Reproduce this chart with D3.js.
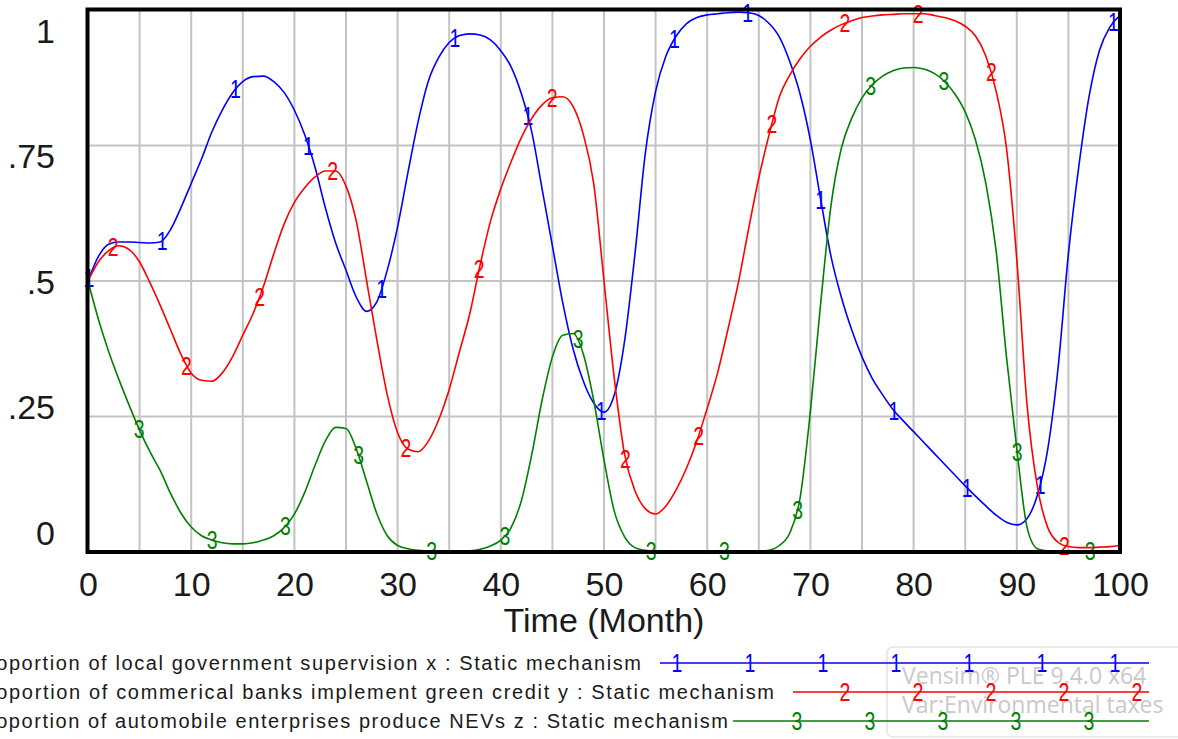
<!DOCTYPE html>
<html>
<head>
<meta charset="utf-8">
<script src="https://cdn.jsdelivr.net/npm/d3@7/dist/d3.min.js"></script>
<style>
  html, body { margin: 0; padding: 0; background: #ffffff; }
  svg { display: block; }
</style>
</head>
<body>
<svg id="chart" width="1178" height="739"></svg>
<script>
// Simulation output, one value per month (0..100)
const months = d3.range(0, 101);

const govSupervision = [
  0.500, 0.545, 0.568, 0.572, 0.572, 0.571, 0.570, 0.572, 0.595, 0.635,
  0.680, 0.725, 0.775, 0.815, 0.847, 0.868, 0.877, 0.878, 0.868, 0.848,
  0.815, 0.770, 0.710, 0.635, 0.570, 0.520, 0.470, 0.444, 0.462, 0.520,
  0.600, 0.700, 0.795, 0.870, 0.913, 0.940, 0.953, 0.956, 0.954, 0.945,
  0.925, 0.895, 0.845, 0.775, 0.670, 0.565, 0.460, 0.375, 0.315, 0.275,
  0.258, 0.290, 0.390, 0.550, 0.735, 0.850, 0.915, 0.952, 0.975, 0.986,
  0.991, 0.993, 0.995, 0.996, 0.995, 0.990, 0.975, 0.950, 0.905, 0.845,
  0.760, 0.650, 0.545, 0.470, 0.410, 0.360, 0.320, 0.290, 0.263, 0.242,
  0.222, 0.202, 0.182, 0.162, 0.142, 0.122, 0.103, 0.085, 0.068, 0.055,
  0.050, 0.062, 0.105, 0.190, 0.340, 0.550, 0.710, 0.840, 0.925, 0.968,
  0.990
];

const greenCredit = [
  0.500, 0.535, 0.556, 0.565, 0.558, 0.535, 0.497, 0.455, 0.410, 0.365,
  0.330, 0.317, 0.315, 0.330, 0.360, 0.400, 0.440, 0.490, 0.550, 0.605,
  0.645, 0.672, 0.692, 0.703, 0.703, 0.675, 0.610, 0.500, 0.390, 0.290,
  0.220, 0.190, 0.185, 0.205, 0.245, 0.300, 0.370, 0.440, 0.530, 0.610,
  0.670, 0.720, 0.765, 0.800, 0.825, 0.838, 0.840, 0.822, 0.770, 0.680,
  0.500, 0.320, 0.180, 0.113, 0.080, 0.070, 0.085, 0.115, 0.155, 0.205,
  0.265, 0.330, 0.410, 0.495, 0.595, 0.690, 0.770, 0.840, 0.880, 0.910,
  0.933, 0.950, 0.963, 0.973, 0.980, 0.986, 0.989, 0.991, 0.992, 0.993,
  0.993, 0.993, 0.990, 0.986, 0.980, 0.970, 0.952, 0.915, 0.850, 0.745,
  0.540, 0.270, 0.120, 0.045, 0.018, 0.010, 0.008, 0.008, 0.009, 0.010,
  0.012
];

const nevProduction = [
  0.500, 0.430, 0.370, 0.318, 0.270, 0.225, 0.185, 0.150, 0.108, 0.072,
  0.046, 0.030, 0.022, 0.017, 0.015, 0.015, 0.017, 0.022, 0.030, 0.045,
  0.070, 0.110, 0.160, 0.205, 0.230, 0.228, 0.190, 0.130, 0.070, 0.030,
  0.012, 0.006, 0.003, 0.002, 0.001, 0.001, 0.001, 0.002, 0.005, 0.011,
  0.022, 0.045, 0.095, 0.180, 0.280, 0.360, 0.400, 0.403, 0.365, 0.280,
  0.170, 0.075, 0.028, 0.008, 0.003, 0.001, 0.001, 0.001, 0.001, 0.001,
  0.001, 0.001, 0.001, 0.001, 0.001, 0.001, 0.003, 0.012, 0.035, 0.100,
  0.260, 0.460, 0.640, 0.745, 0.800, 0.838, 0.862, 0.878, 0.888, 0.893,
  0.894, 0.891, 0.883, 0.868, 0.845, 0.812, 0.760, 0.680, 0.555, 0.360,
  0.190, 0.045, 0.006, 0.002, 0.001, 0.001, 0.001, 0.001, 0.001, 0.001,
  0.001
];

const seriesLabels = [
  "Proportion of local government supervision x : Static mechanism",
  "Proportion of commerical banks implement green credit y : Static mechanism",
  "Proportion of automobile enterprises produce NEVs z : Static mechanism"
];
const seriesTags = ["1", "2", "3"];
const seriesColors = ["#0000ff", "#ff0000", "#008000"];

const xTicks = [0, 10, 20, 30, 40, 50, 60, 70, 80, 90, 100];
const xGrid = [5, 10, 15, 20, 25, 30, 35, 40, 45, 50, 55, 60, 65, 70, 75, 80, 85, 90, 95];
const yTicks = [0, 0.25, 0.5, 0.75, 1];
const yTickLabels = ["0", ".25", ".5", ".75", "1"];
const yGrid = [0.25, 0.5, 0.75];
const xTitle = "Time (Month)";
const badgeLines = ["Vensim\u00ae  PLE 9.4.0 x64", "Var:Environmental taxes"];

// ---- layout ----
const svg = d3.select("#chart");
const plot = { left: 88, right: 1120, top: 10, bottom: 552 };

const x = d3.scaleLinear().domain([0, 100]).range([plot.left, plot.right]);
const y = d3.scaleLinear().domain([0, 1]).range([plot.bottom, plot.top]);
// value labels are spread evenly inside the frame
const yLabelPos = d3.scaleLinear().domain([0, 1]).range([532, 30]);

const seriesData = [govSupervision, greenCredit, nevProduction];

// grid
const grid = svg.append("g").attr("stroke", "#c3c3c3").attr("stroke-width", 2);
grid.selectAll("line.v").data(xGrid).join("line")
  .attr("x1", d => x(d)).attr("x2", d => x(d))
  .attr("y1", plot.top).attr("y2", plot.bottom);
grid.selectAll("line.h").data(yGrid).join("line")
  .attr("x1", plot.left).attr("x2", plot.right)
  .attr("y1", d => y(d)).attr("y2", d => y(d));

// lines
const lineGen = d3.line()
  .x((d, i) => x(months[i]))
  .y(d => y(d))
  .curve(d3.curveMonotoneX);

const tagFont = "'Liberation Sans', Arial, sans-serif";

function drawTag(g, px, py, tag, color) {
  g.append("text")
    .attr("transform", `translate(${px},${py}) scale(0.78,1)`)
    .attr("text-anchor", "middle")
    .attr("y", 9)
    .attr("font-family", tagFont)
    .attr("font-size", 25)
    .attr("fill", color)
    .text(tag);
}

// locate the point on a rendered path at a given x
function pointAtX(path, px) {
  const total = path.getTotalLength();
  let lo = 0, hi = total;
  for (let k = 0; k < 40; k++) {
    const mid = (lo + hi) / 2;
    if (path.getPointAtLength(mid).x < px) lo = mid; else hi = mid;
  }
  return path.getPointAtLength((lo + hi) / 2);
}

// tag spacing along time axis and per-series offsets
const tagStep = 7.09;
const tagOffsets = [0.1, 2.45, 4.95];

seriesData.forEach((vals, s) => {
  const g = svg.append("g");
  const p = g.append("path")
    .datum(vals)
    .attr("fill", "none")
    .attr("stroke", seriesColors[s])
    .attr("stroke-width", 1.6)
    .attr("d", lineGen);
  const node = p.node();
  for (let t = tagOffsets[s]; t <= 100; t += tagStep) {
    const pt = pointAtX(node, x(t));
    drawTag(g, pt.x, pt.y, seriesTags[s], seriesColors[s]);
  }
});

// frame
svg.append("rect")
  .attr("x", plot.left - 0.5).attr("y", plot.top - 0.5)
  .attr("width", plot.right - plot.left + 0.5)
  .attr("height", plot.bottom - plot.top + 0.5)
  .attr("fill", "none").attr("stroke", "#000").attr("stroke-width", 4);

// axes text
const axisFont = "'Liberation Sans', Arial, sans-serif";
const xAxis = d3.axisBottom(x).tickValues(xTicks).tickSize(0).tickPadding(0);
const xg = svg.append("g").attr("transform", `translate(0,${plot.bottom})`).call(xAxis);
xg.select(".domain").remove();
xg.selectAll("text")
  .attr("dy", null).attr("y", 44)
  .attr("font-family", axisFont).attr("font-size", 34).attr("fill", "#1a1a1a");

const yAxis = d3.axisLeft(yLabelPos).tickValues(yTicks)
  .tickFormat((d, i) => yTickLabels[i]).tickSize(0).tickPadding(0);
const yg = svg.append("g").attr("transform", "translate(55,0)").call(yAxis);
yg.select(".domain").remove();
yg.selectAll("text")
  .attr("dy", "0.36em")
  .attr("font-family", axisFont).attr("font-size", 34).attr("fill", "#1a1a1a");

svg.append("text")
  .attr("x", (plot.left + plot.right) / 2).attr("y", 632)
  .attr("text-anchor", "middle")
  .attr("font-family", axisFont).attr("font-size", 34).attr("fill", "#1a1a1a")
  .text(xTitle);

// badge
const badge = svg.append("g");
badge.append("rect")
  .attr("x", 887).attr("y", 647).attr("width", 330).attr("height", 90).attr("rx", 6)
  .attr("fill", "#ffffff").attr("stroke", "#e4e4e4").attr("stroke-width", 1.5);
badge.selectAll("text").data(badgeLines).join("text")
  .attr("x", 902).attr("y", (d, i) => 684 + i * 29)
  .attr("font-family", "'Open Sans', sans-serif").attr("font-size", 23)
  .attr("fill", "#c9c9c9")
  .text(d => d);

// legend: each label runs off the left edge of the page
const legendRows = [
  { y: 663, textStart: -27, textEnd: 641, lineStart: 660, firstTag: 677 },
  { y: 692, textStart: -27, textEnd: 774, lineStart: 793, firstTag: 845 },
  { y: 721, textStart: -27, textEnd: 728, lineStart: 733, firstTag: 797 }
];
legendRows.forEach((r, s) => {
  const g = svg.append("g");
  g.append("text")
    .attr("x", r.textStart).attr("y", r.y + 7)
    .attr("textLength", r.textEnd - r.textStart)
    .attr("lengthAdjust", "spacing")
    .attr("font-family", axisFont).attr("font-size", 20).attr("fill", "#1a1a1a")
    .text(seriesLabels[s]);
  g.append("line")
    .attr("x1", r.lineStart).attr("x2", 1149)
    .attr("y1", r.y).attr("y2", r.y)
    .attr("stroke", seriesColors[s]).attr("stroke-width", 1.6);
  for (let px = r.firstTag; px < 1150; px += 73) {
    drawTag(g, px, r.y, seriesTags[s], seriesColors[s]);
  }
});
</script>
</body>
</html>
